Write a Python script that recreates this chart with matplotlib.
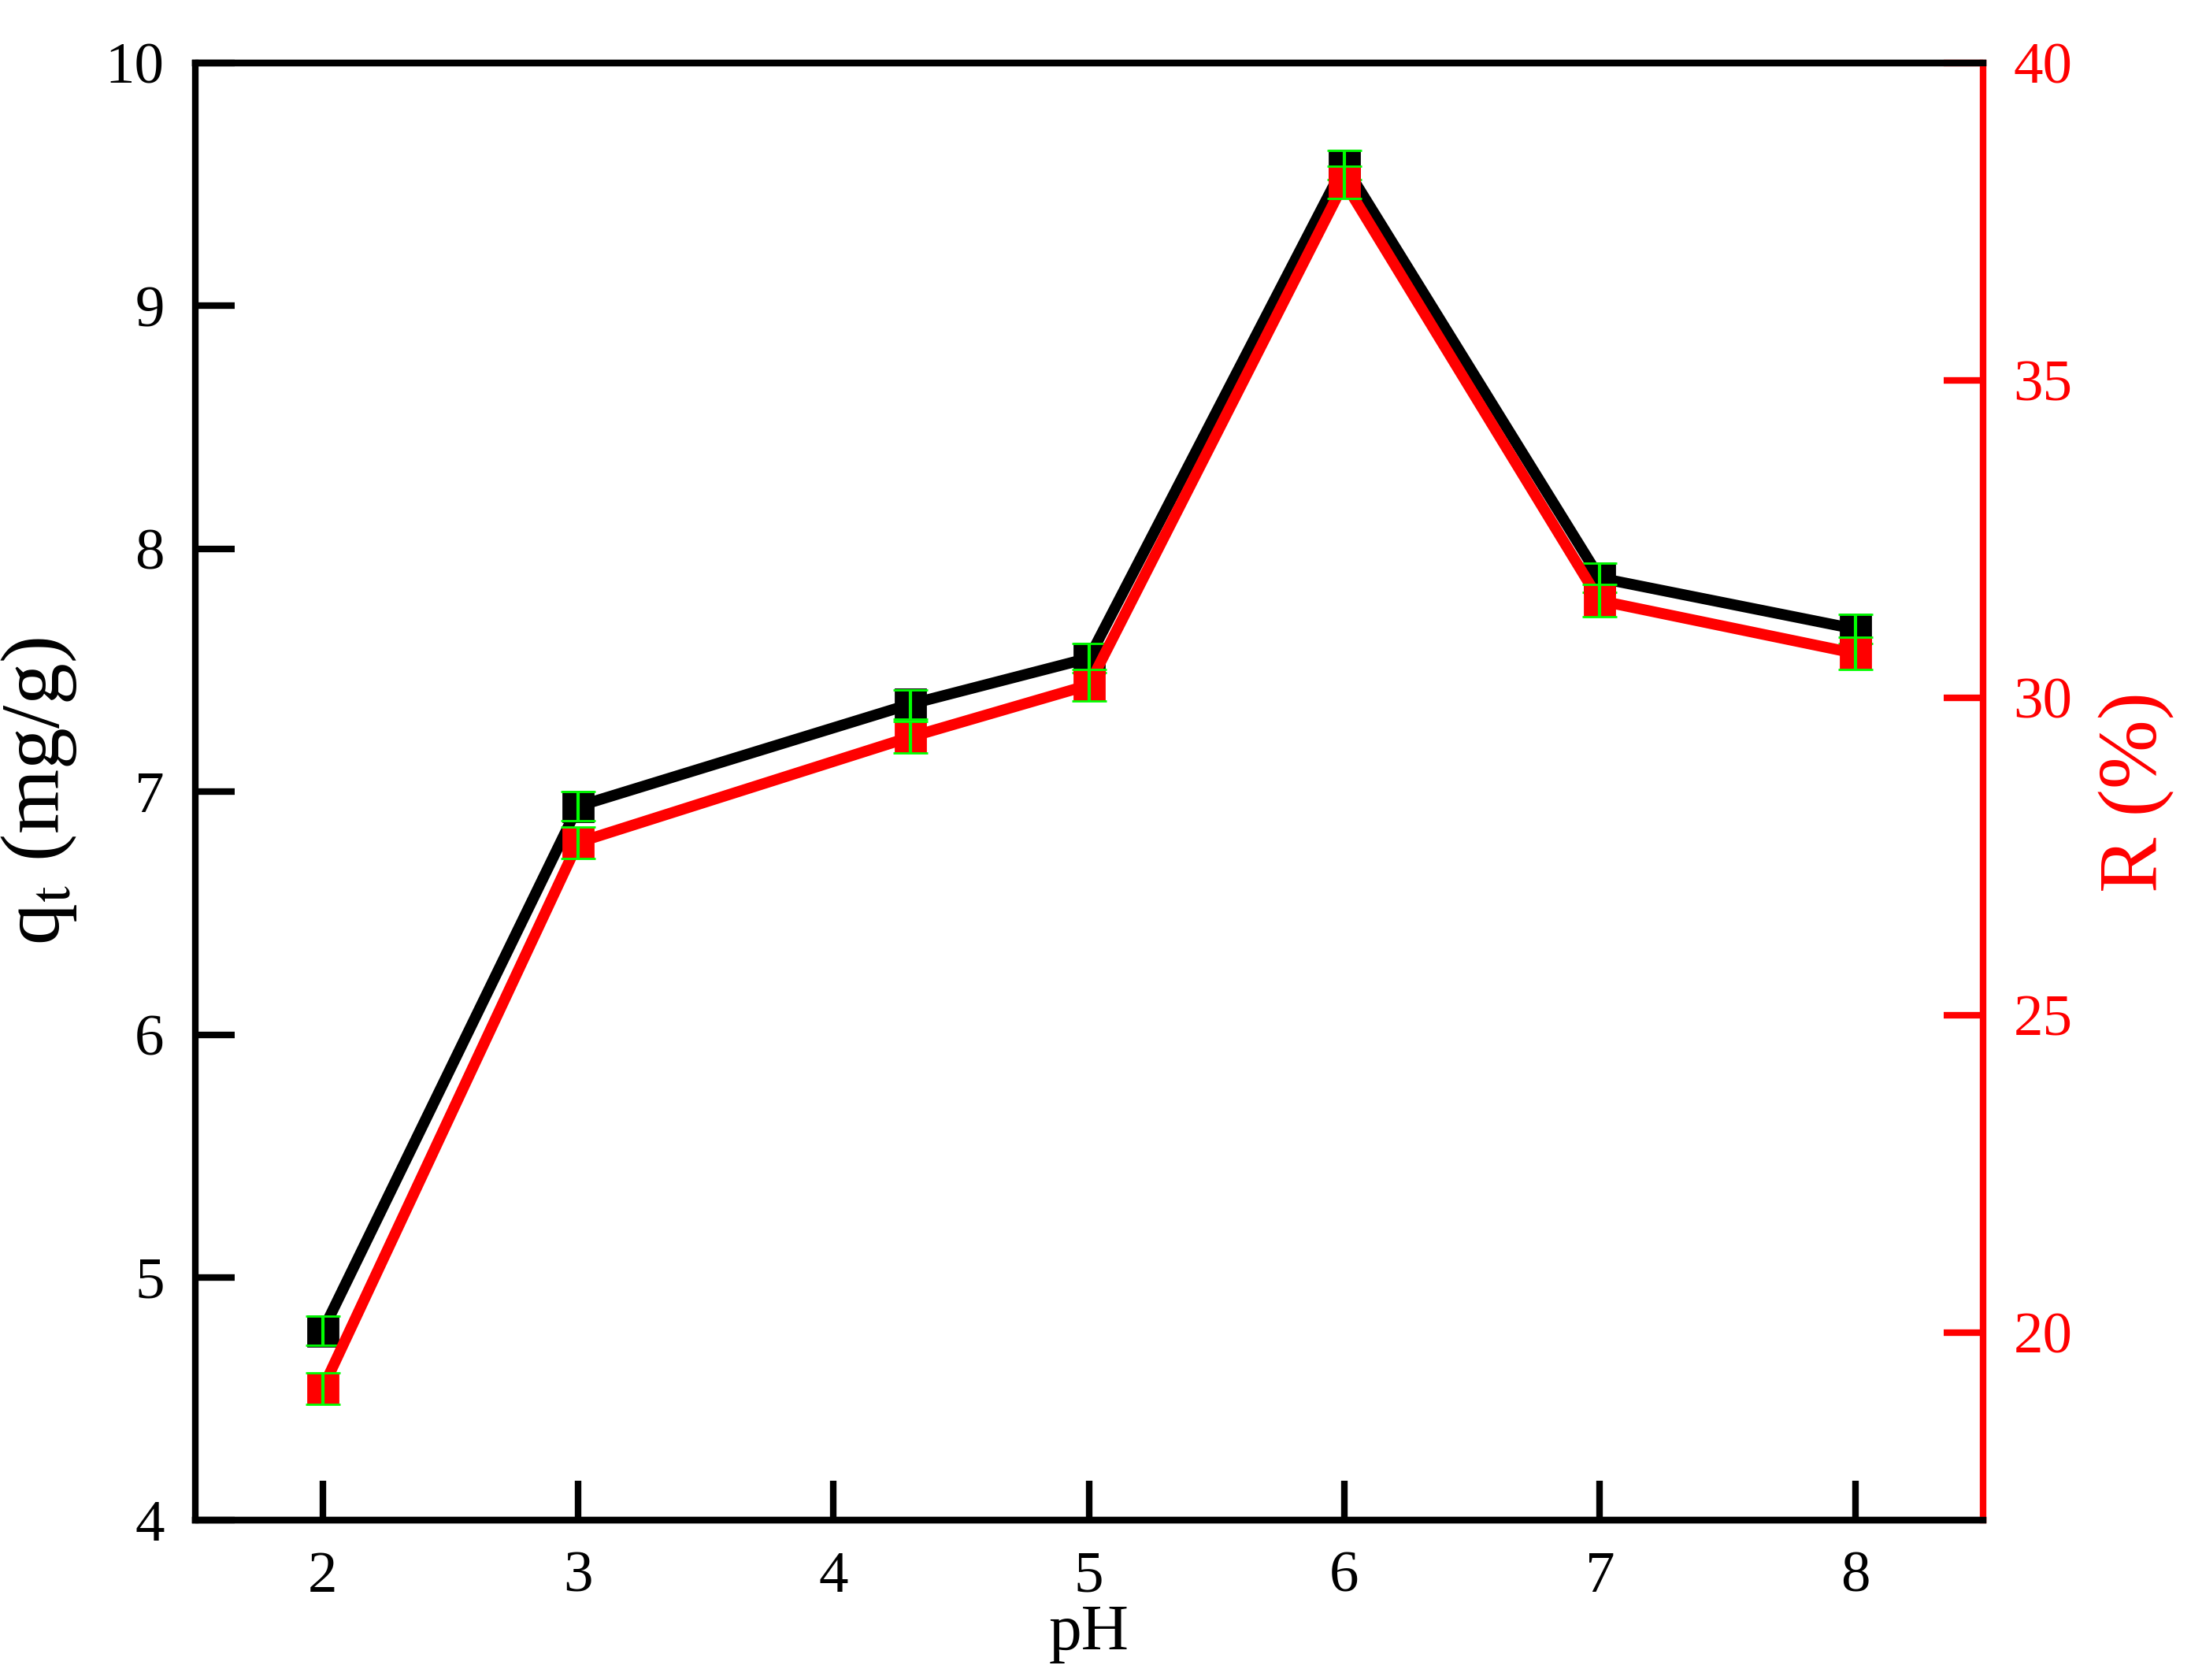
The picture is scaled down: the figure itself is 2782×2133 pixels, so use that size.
import matplotlib.pyplot as plt

plt.rcParams['font.family'] = ['Liberation Serif', 'DejaVu Serif']
plt.rcParams['mathtext.fontset'] = 'stix'

# pH values and measured results
ph = [2, 3, 4.3, 5, 6, 7, 8]
qt = [4.78, 6.94, 7.36, 7.55, 9.58, 7.88, 7.67]
removal = [19.12, 27.72, 29.38, 30.2, 38.12, 31.53, 30.7]
qt_err = [0.06, 0.06, 0.06, 0.06, 0.06, 0.06, 0.06]
r_err = [0.25, 0.25, 0.25, 0.25, 0.25, 0.25, 0.25]

fig = plt.figure(figsize=(13.91, 10.665), dpi=200)
ax = fig.add_axes([0.089, 0.095, 0.816, 0.8675])
ax2 = ax.twinx()

ax.plot(ph, qt, color='black', lw=5, solid_capstyle='round', zorder=2)
ax.plot(ph, qt, 's', color='black', ms=14, zorder=3)
ax.errorbar(ph, qt, yerr=qt_err, fmt='none', ecolor='#00ff00', elinewidth=1.5, capsize=8, zorder=4)

ax2.plot(ph, removal, color='red', lw=5, solid_capstyle='round', zorder=2)
ax2.plot(ph, removal, 's', color='red', ms=14, zorder=3)
ax2.errorbar(ph, removal, yerr=r_err, fmt='none', ecolor='#00ff00', elinewidth=1.5, capsize=8, zorder=4)

ax.set_xlim(1.5, 8.5)
ax.set_ylim(4, 10)
ax2.set_ylim(17.04, 40)
ax.set_xticks([2, 3, 4, 5, 6, 7, 8])
ax.set_yticks([4, 5, 6, 7, 8, 9, 10])
ax2.set_yticks([20, 25, 30, 35, 40])

for s in ax.spines.values():
    s.set_linewidth(3)
for s in ax2.spines.values():
    s.set_linewidth(3)
ax2.spines['right'].set_color('red')
ax2.spines['left'].set_visible(False)
ax.spines['right'].set_visible(False)

ax.tick_params(direction='in', length=18, width=3, labelsize=27, pad=14)
ax2.tick_params(direction='in', length=18, width=3, labelsize=27, colors='red', pad=14)

ax.set_xlabel('pH', fontsize=30, labelpad=0)
ax.set_ylabel('q$_{\\mathrm{t}}$ (mg/g)', fontsize=38, labelpad=12)
ax2.set_ylabel('R (%)', fontsize=38, color='red', labelpad=12)

fig.savefig('out.png', dpi=200)
